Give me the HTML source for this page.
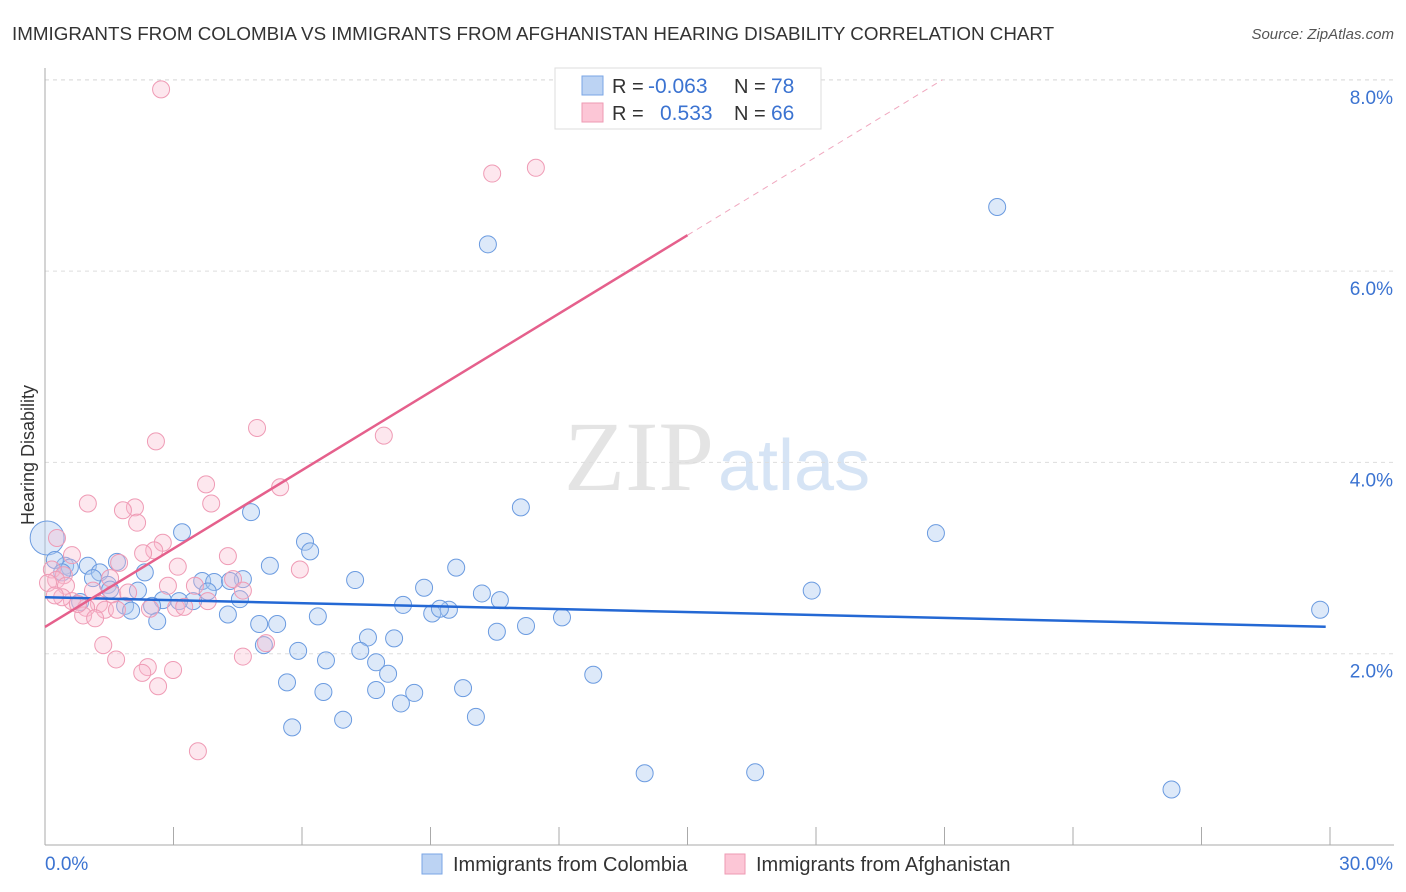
<!DOCTYPE html>
<html><head><meta charset="utf-8"><style>
body{margin:0;background:#fff;font-family:"Liberation Sans",sans-serif}
svg{display:block}
</style></head><body>
<svg id="chart" width="1406" height="892" xmlns="http://www.w3.org/2000/svg">
<text x="12" y="40" font-size="18.8" fill="#333">IMMIGRANTS FROM COLOMBIA VS IMMIGRANTS FROM AFGHANISTAN HEARING DISABILITY CORRELATION CHART</text>
<text x="1394" y="39" font-size="15" fill="#555" font-style="italic" text-anchor="end">Source: ZipAtlas.com</text>
<text x="714" y="490" font-size="100" fill="#e4e4e4" text-anchor="end" font-family="Liberation Serif">ZIP</text>
<text x="718" y="490" font-size="72" fill="#d6e4f5">atlas</text>
<g id="grid"></g>
<g id="axes"></g>
<g id="marks"></g>
<text transform="translate(34,455) rotate(-90)" font-size="18" fill="#333" text-anchor="middle">Hearing Disability</text>
<g>
<rect x="555" y="68" width="266" height="61" fill="#fff" stroke="#ddd"/>
<rect x="582" y="76" width="21" height="19" fill="#bcd3f3" stroke="#7aa6e6"/>
<rect x="582" y="103" width="21" height="19" fill="#fcc6d6" stroke="#ee9ab3"/>
<text x="612" y="93" font-size="20" fill="#333">R =</text>
<text x="648" y="93" font-size="21" fill="#3b73d1">-0.063</text>
<text x="734" y="93" font-size="20" fill="#333">N =</text>
<text x="771" y="93" font-size="21" fill="#3b73d1">78</text>
<text x="612" y="120" font-size="20" fill="#333">R =</text>
<text x="660" y="120" font-size="21" fill="#3b73d1">0.533</text>
<text x="734" y="120" font-size="20" fill="#333">N =</text>
<text x="771" y="120" font-size="21" fill="#3b73d1">66</text>
</g>
<g>
<rect x="422" y="854" width="20" height="20" fill="#bcd3f3" stroke="#7aa6e6"/>
<text x="453" y="871" font-size="20" fill="#333">Immigrants from Colombia</text>
<rect x="725" y="854" width="20" height="20" fill="#fcc6d6" stroke="#ee9ab3"/>
<text x="756" y="871" font-size="20" fill="#333">Immigrants from Afghanistan</text>
</g>
</svg>
<script>
const xTicks=[0,3,6,9,12,15,18,21,24,27,30];
const yTicks=[2,4,6,8];
const yTickLabels=["2.0%","4.0%","6.0%","8.0%"];
const blueX=[10.34,22.23,20.8,11.11,4.81,3.2,6.07,6.19,5.25,1.68,1.0,0.47,1.28,2.33,1.12,7.24,9.6,8.85,10.2,10.62,17.9,1.47,2.17,1.52,3.67,3.95,4.62,4.32,3.8,4.55,3.46,2.75,3.13,1.87,2.01,2.5,4.27,2.62,6.37,8.36,9.04,9.43,9.22,12.07,11.23,10.55,5.42,5.0,7.54,8.15,5.11,5.91,7.36,6.56,7.73,8.01,12.8,5.65,6.5,7.73,8.62,9.76,8.31,6.96,10.06,5.77,14.0,16.58,26.3,29.77,0.05,0.23,0.58,0.4,0.82];
const blueY=[6.28,6.67,3.26,3.53,3.48,3.27,3.17,3.07,2.92,2.96,2.92,2.92,2.85,2.85,2.79,2.77,2.9,2.69,2.63,2.56,2.66,2.72,2.66,2.67,2.76,2.75,2.78,2.76,2.65,2.57,2.55,2.56,2.55,2.5,2.45,2.5,2.41,2.34,2.39,2.51,2.42,2.46,2.47,2.38,2.29,2.23,2.31,2.31,2.17,2.16,2.09,2.03,2.03,1.93,1.91,1.79,1.78,1.7,1.6,1.62,1.59,1.64,1.48,1.31,1.34,1.23,0.75,0.76,0.58,2.46,3.21,2.98,2.9,2.85,2.54];
const pinkX=[2.71,10.44,11.46,4.95,2.59,7.91,3.76,5.49,3.88,1.0,2.1,1.82,2.15,0.28,2.75,2.55,2.29,4.27,0.63,1.73,3.1,5.95,0.16,0.44,0.26,1.52,4.39,2.87,3.5,0.49,0.07,1.57,4.62,1.12,1.94,0.63,3.8,1.26,1.4,0.96,3.06,3.25,1.68,0.89,1.17,2.45,5.16,1.36,1.66,4.62,2.4,2.27,2.99,2.64,3.57,0.4,0.77,0.23];
const pinkY=[7.9,7.02,7.08,4.36,4.22,4.28,3.77,3.74,3.57,3.57,3.53,3.5,3.37,3.21,3.16,3.08,3.05,3.02,3.03,2.95,2.91,2.88,2.88,2.82,2.77,2.79,2.78,2.71,2.71,2.71,2.74,2.62,2.66,2.66,2.64,2.55,2.55,2.52,2.46,2.48,2.48,2.49,2.46,2.4,2.37,2.47,2.11,2.09,1.94,1.97,1.86,1.8,1.83,1.66,0.98,2.59,2.52,2.61];
const blueTrend=[2.59,-0.0103];
const pinkTrend=[2.28,0.273];
const NS="http://www.w3.org/2000/svg";
const X=v=>45+v*42.833, Y=v=>845-v*95.65;
function mk(t,a,p){const e=document.createElementNS(NS,t);for(const k in a)e.setAttribute(k,a[k]);(p||document.getElementById('marks')).appendChild(e);return e;}
const gridG=document.getElementById('grid'),axesG=document.getElementById('axes');
yTicks.forEach((t,i)=>{const l=mk('line',{x1:45,x2:1394,y1:Y(t),y2:Y(t),stroke:'#ddd','stroke-dasharray':'4,4'},gridG);


const tx=mk('text',{x:1393,y:Y(t)+24,'font-size':19,fill:'#3b73d1','text-anchor':'end'},axesG);tx.textContent=yTickLabels[i];

});
const topGrid=mk('line',{x1:45,x2:1394,y1:80,y2:80,stroke:'#ddd','stroke-dasharray':'4,4'},gridG);
mk('line',{x1:45,x2:45,y1:68,y2:845,stroke:'#aaa'},axesG);
mk('line',{x1:45,x2:1394,y1:845,y2:845,stroke:'#aaa'},axesG);
xTicks.forEach(t=>{const l=mk('line',{x1:X(t),x2:X(t),y1:827,y2:845,stroke:'#aaa'},axesG);

});
let t0=mk('text',{x:45,y:870,'font-size':19,fill:'#3b73d1'},axesG);t0.textContent='0.0%';


let t1=mk('text',{x:1393,y:870,'font-size':19,fill:'#3b73d1','text-anchor':'end'},axesG);t1.textContent='30.0%';


blueX.forEach((x,i)=>{const c=mk('circle',{cx:X(x),cy:Y(blueY[i]),r:i==70?17:8.5,fill:'rgba(170,200,240,0.4)',stroke:'#6b9be0','stroke-width':1});

});
pinkX.forEach((x,i)=>{const c=mk('circle',{cx:X(x),cy:Y(pinkY[i]),r:8.5,fill:'rgba(250,185,205,0.35)',stroke:'#ef9bb5','stroke-width':1});

});
let bl=mk('line',{x1:X(0),y1:Y(blueTrend[0]),x2:X(29.9),y2:Y(blueTrend[0]+blueTrend[1]*29.9),stroke:'#2468d4','stroke-width':2.5});


let pl=mk('line',{x1:X(0),y1:Y(pinkTrend[0]),x2:X(15),y2:Y(pinkTrend[0]+pinkTrend[1]*15),stroke:'#e5608c','stroke-width':2.5});


const xe=(8-pinkTrend[0])/pinkTrend[1];
let pd=mk('line',{x1:X(15),y1:Y(pinkTrend[0]+pinkTrend[1]*15),x2:X(xe),y2:Y(8),stroke:'#f0a8bf','stroke-width':1,'stroke-dasharray':'6,5'});


</script>
</body></html>
